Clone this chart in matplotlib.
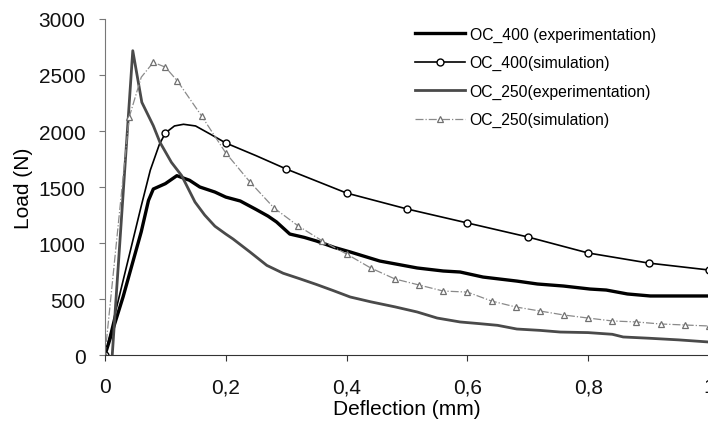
import matplotlib
matplotlib.use("Agg")
import matplotlib.pyplot as plt
from matplotlib.ticker import FixedLocator, FuncFormatter

plt.rcParams['font.family'] = ['Liberation Sans', 'DejaVu Sans']

# OC_400 experimental curve
x_400_exp = [0, 0.03, 0.06, 0.072, 0.08, 0.1, 0.119, 0.14, 0.157, 0.182, 0.2, 0.224,
             0.25, 0.27, 0.284, 0.306, 0.33, 0.35, 0.38, 0.406, 0.455, 0.517, 0.56,
             0.588, 0.626, 0.682, 0.716, 0.759, 0.803, 0.83, 0.865, 0.903, 1.0]
y_400_exp = [0, 520, 1100, 1380, 1482, 1530, 1601, 1560, 1500, 1455, 1410, 1375,
             1300, 1240, 1188, 1080, 1050, 1018, 960, 920, 839, 777, 750,
             741, 696, 660, 634, 616, 589, 580, 545, 527, 527]

# OC_400 simulation (markers every 0.1 mm)
x_400_sim = [0, 0.06, 0.075, 0.09, 0.1, 0.115, 0.13, 0.15, 0.175, 0.2, 0.25, 0.3,
             0.4, 0.5, 0.6, 0.7, 0.8, 0.9, 1.0]
y_400_sim = [0, 1330, 1650, 1880, 1982, 2045, 2060, 2045, 1970, 1893, 1780, 1661,
             1446, 1304, 1179, 1054, 911, 821, 759]
marks_400 = [0, 4, 9, 11, 12, 13, 14, 15, 16, 17, 18]

# OC_250 experimental curve
x_250_exp = [0.012, 0.046, 0.061, 0.08, 0.091, 0.11, 0.127, 0.149, 0.165, 0.182,
             0.2, 0.212, 0.24, 0.268, 0.295, 0.323, 0.35, 0.378, 0.406, 0.44, 0.48,
             0.517, 0.55, 0.588, 0.62, 0.65, 0.682, 0.72, 0.754, 0.8, 0.84, 0.858,
             0.9, 0.95, 1.0]
y_250_exp = [0, 2717, 2256, 2047, 1899, 1720, 1601, 1366, 1250, 1150,
             1080, 1036, 920, 800, 730, 680, 630, 575, 518, 475, 430,
             384, 330, 295, 280, 265, 232, 220, 205, 200, 185, 161,
             150, 135, 116]

# OC_250 simulation (markers every 0.04 mm)
x_250_sim = [0, 0.04, 0.06, 0.08, 0.1, 0.12, 0.16, 0.2, 0.24, 0.28, 0.32, 0.36, 0.4,
             0.44, 0.48, 0.52, 0.56, 0.6, 0.64, 0.68, 0.72, 0.76, 0.8, 0.84, 0.88,
             0.92, 0.96, 1.0]
y_250_sim = [0, 2122, 2480, 2613, 2570, 2446, 2134, 1804, 1545, 1312, 1152, 1018, 902,
             777, 679, 625, 571, 562, 482, 429, 393, 357, 330, 304, 295,
             277, 268, 259]
marks_250 = [0, 1] + list(range(3, len(x_250_sim)))

x_ticks = [0, 0.2, 0.4, 0.6, 0.8, 1.0]
y_ticks = [0, 500, 1000, 1500, 2000, 2500, 3000]

fig = plt.figure(figsize=(7.08, 4.31), dpi=100)
ax = fig.add_axes([0.1483, 0.174, 0.853, 0.7796])

ax.plot(x_400_exp, y_400_exp, color='black', lw=2.4, label='OC_400 (experimentation)')
ax.plot(x_400_sim, y_400_sim, color='black', lw=1.2, marker='o', ms=5,
        mfc='white', mec='black', mew=1, markevery=marks_400, label='OC_400(simulation)')
ax.plot(x_250_exp, y_250_exp, color='#4a4a4a', lw=2.0, label='OC_250(experimentation)')
ax.plot(x_250_sim, y_250_sim, color='#8a8a8a', lw=0.9, ls='-.', marker='^', ms=5,
        mfc='white', mec='#707070', mew=0.9, markevery=marks_250, label='OC_250(simulation)')

ax.set_xlim(0, 1.0)
ax.set_ylim(0, 3000)
ax.xaxis.set_major_locator(FixedLocator(x_ticks))
ax.yaxis.set_major_locator(FixedLocator(y_ticks))
ax.xaxis.set_major_formatter(FuncFormatter(lambda v, p: ('%g' % v).replace('.', ',')))

ax.spines['top'].set_visible(False)
ax.spines['right'].set_visible(False)
ax.spines['left'].set_color('#777777')
ax.spines['bottom'].set_color('#333333')
ax.tick_params(axis='both', labelsize=15, colors='#111111', length=4, width=0.8)
ax.tick_params(axis='x', pad=12, color='#333333')
ax.tick_params(axis='y', pad=10, color='#777777')

ax.set_xlabel('Deflection (mm)', fontsize=15, labelpad=2)
ax.set_ylabel('Load (N)', fontsize=15, labelpad=4)

ax.legend(loc='upper left', bbox_to_anchor=(0.5, 1.0), frameon=False, fontsize=11.3,
          handlelength=3.2, handletextpad=0.3, labelspacing=0.85, borderaxespad=0.1)

fig.savefig('out.png', dpi=100)
